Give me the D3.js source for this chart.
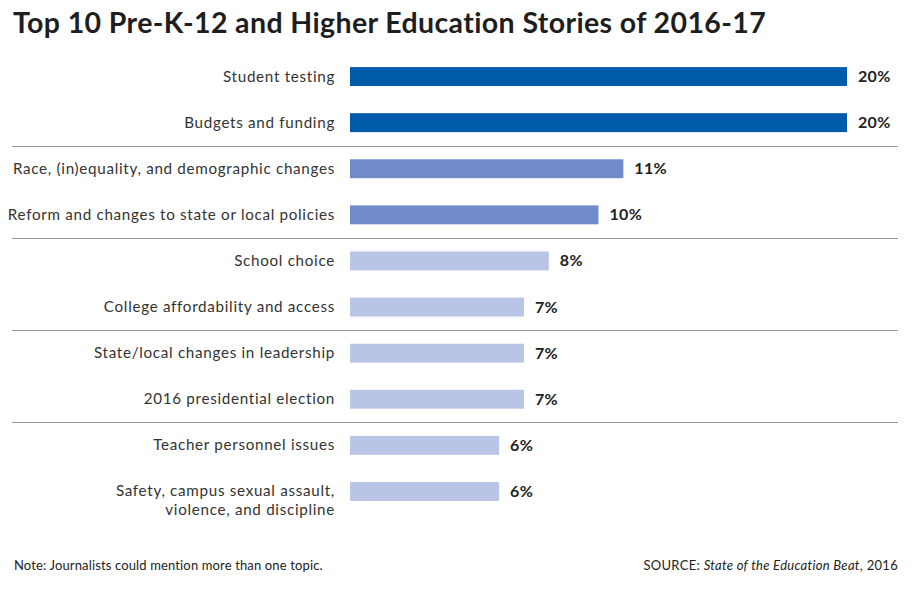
<!DOCTYPE html>
<html><head><meta charset="utf-8">
<script src="https://cdn.jsdelivr.net/npm/d3@7"></script>
<style>body{margin:0;background:#fff}</style>
</head><body>
<svg id="c" width="920" height="589"></svg>
<script>
const categories = [
  ["Student testing"],
  ["Budgets and funding"],
  ["Race, (in)equality, and demographic changes"],
  ["Reform and changes to state or local policies"],
  ["School choice"],
  ["College affordability and access"],
  ["State/local changes in leadership"],
  ["2016 presidential election"],
  ["Teacher personnel issues"],
  ["Safety, campus sexual assault,", "violence, and discipline"]
];
const values = [20, 20, 11, 10, 8, 7, 7, 7, 6, 6];
const tiers = [0, 0, 1, 1, 2, 2, 2, 2, 2, 2];
const tierColors = ["#005bab", "#6f8bc8", "#b9c5e7"];
const title = "Top 10 Pre-K-12 and Higher Education Stories of 2016-17";
const note = "Note: Journalists could mention more than one topic.";

const svg = d3.select("#c");
const font = "Lato, 'Open Sans', sans-serif";

const x = d3.scaleLinear().domain([0, 20]).range([350, 847]);
const y = d3.scaleBand().domain(d3.range(values.length)).range([53.5, 514.5]).paddingInner(0.59).paddingOuter(0.295);

svg.append("text").attr("x", 13).attr("y", 33)
  .attr("font-family", font).attr("font-weight", 700).attr("font-size", 28.5)
  .attr("letter-spacing", 0.38)
  .attr("fill", "#1e1e1e").text(title);

// separators
[2, 4, 6, 8].forEach(i => {
  const yy = Math.round((y(i - 1) + y.bandwidth() + y(i)) / 2) + 0.5;
  svg.append("line").attr("x1", 12).attr("x2", 898).attr("y1", yy).attr("y2", yy)
    .attr("stroke", "#9a9a9a").attr("stroke-width", 1.2);
});

const g = svg.selectAll("g.row").data(values).join("g").attr("class", "row");
g.append("rect")
  .attr("x", x(0)).attr("y", (d, i) => y(i))
  .attr("width", d => x(d) - x(0)).attr("height", y.bandwidth())
  .attr("fill", (d, i) => tierColors[tiers[i]]);
g.append("text")
  .attr("x", d => x(d) + 11).attr("y", (d, i) => y(i) + y.bandwidth() / 2 + 5.5)
  .attr("font-family", font).attr("font-weight", 700).attr("font-size", 16)
  .attr("letter-spacing", 0.3)
  .attr("fill", "#222").text(d => d + "%");
g.each(function(d, i) {
  const t = d3.select(this).append("text")
    .attr("x", 335).attr("y", y(i) + y.bandwidth() / 2 + 5)
    .attr("text-anchor", "end").attr("font-family", font).attr("font-size", 15.2)
    .attr("letter-spacing", 0.7)
    .attr("fill", "#333");
  categories[i].forEach((line, k) => {
    t.append("tspan").attr("x", 335).attr("dy", k === 0 ? 0 : 19).text(line);
  });
});

svg.append("text").attr("x", 14).attr("y", 570)
  .attr("font-family", font).attr("font-size", 13).attr("letter-spacing", 0.14)
  .attr("fill", "#222").text(note);
const src = svg.append("text").attr("x", 898).attr("y", 570).attr("text-anchor", "end")
  .attr("font-family", font).attr("font-size", 13).attr("letter-spacing", 0.3)
  .attr("fill", "#222");
src.append("tspan").text("SOURCE: ");
src.append("tspan").attr("font-style", "italic").text("State of the Education Beat");
src.append("tspan").text(", 2016");
</script>
</body></html>
